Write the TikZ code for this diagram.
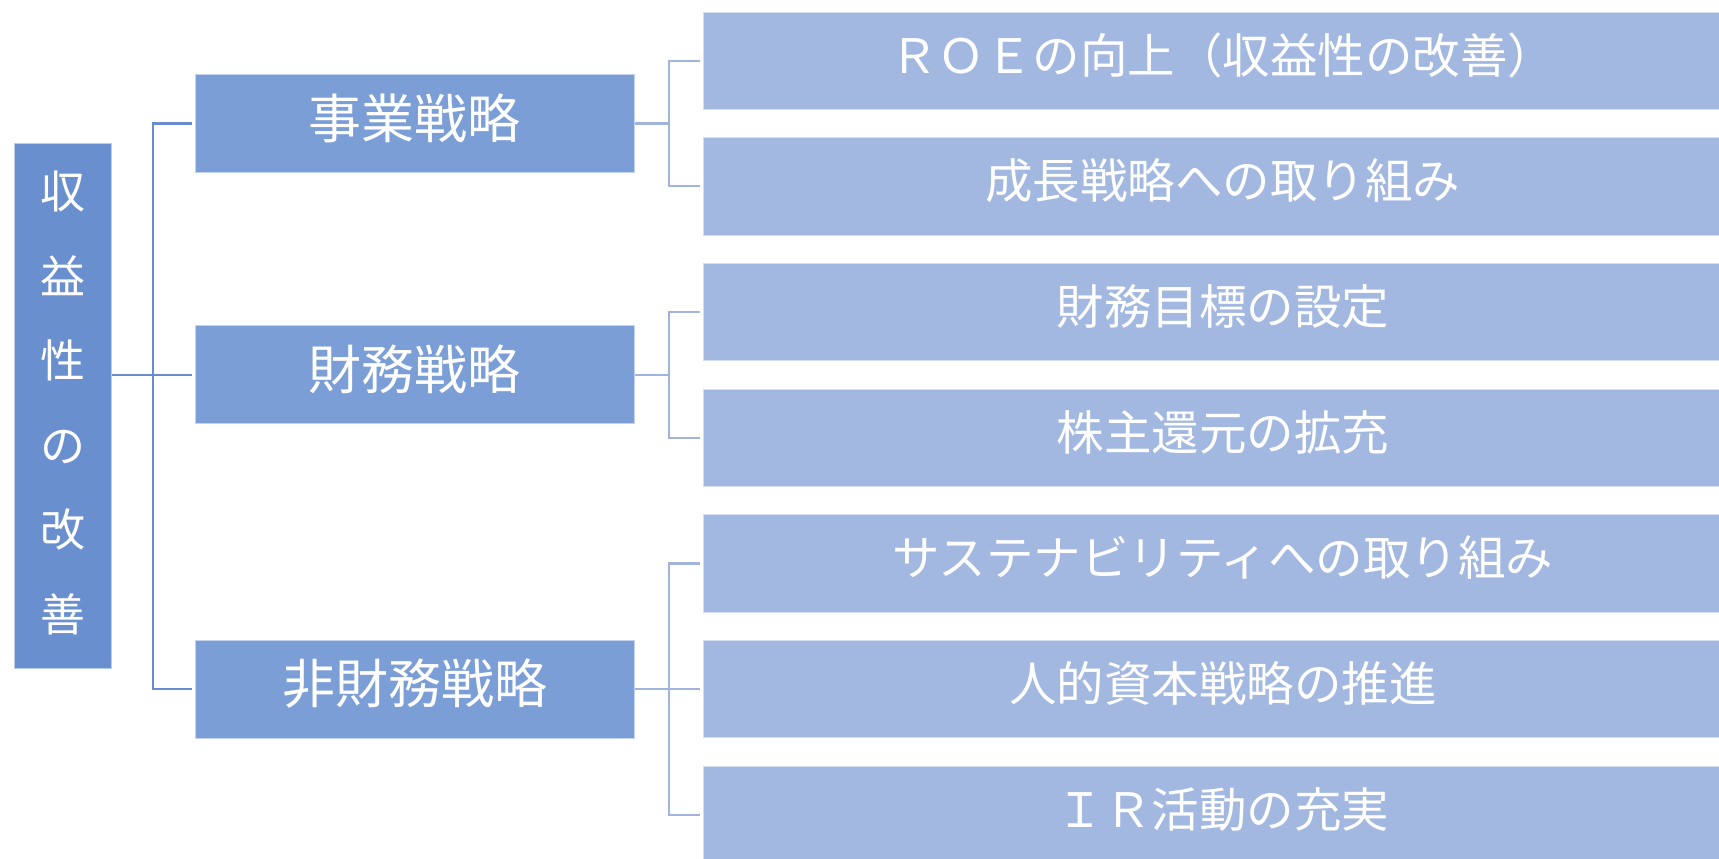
\documentclass[tikz,border=0pt]{standalone}
\usepackage{fontspec}
\newfontfamily\jp{Noto Sans CJK JP}
\newcommand\liftup[1]{\raisebox{5.5pt}[\height][\depth]{#1}}
\definecolor{rootfill}{RGB}{106,143,207}
\definecolor{midfill}{RGB}{123,158,214}
\definecolor{leaffill}{RGB}{162,184,224}
\definecolor{lineA}{RGB}{106,140,206}
\definecolor{lineB}{RGB}{160,180,222}
\tikzset{
  rootbox/.style={rectangle, fill=rootfill, draw=white!55!rootfill, line width=0.8pt,
    minimum width=97.5pt, minimum height=525pt, inner sep=0pt},
  roottext/.style={text=white, align=center, inner sep=0pt, yshift=3pt,
    font=\jp\fontsize{45}{84.5}\selectfont},
  midbox/.style={rectangle, fill=midfill, draw=white!55!midfill, line width=0.8pt,
    minimum width=439.7pt, minimum height=97.6pt, inner sep=0pt, text=white,
    font=\jp\fontsize{53}{60}\selectfont},
  leafbox/.style={rectangle, fill=leaffill, draw=white!55!leaffill, line width=0.8pt,
    minimum width=1038.3pt, minimum height=97.3pt, inner sep=0pt, text=white,
    font=\jp\fontsize{47.5}{55}\selectfont},
  connA/.style={draw=lineA, line width=2.2pt, shorten >=3pt},
  connB/.style={draw=lineB, line width=2.2pt, shorten >=3pt},
}
\begin{document}
\begin{tikzpicture}[x=1pt,y=-1pt]
\path[use as bounding box, clip] (0,0) rectangle (1719,859);
\fill[white] (0,0) rectangle (1719,859);
% root
\node[rootbox, label={[roottext]center:{収\\益\\性\\の\\改\\善}}] (root) at (63,406.2) {};
% middle
\node[midbox] (b1) at (414.85,123.5) {\liftup{事業戦略}};
\node[midbox] (b2) at (414.85,374.6) {\liftup{財務戦略}};
\node[midbox] (b3) at (414.85,689.2) {\liftup{非財務戦略}};
% leaves
\node[leafbox] (l1) at (1222.85,60.65) {\liftup{ＲＯＥの向上（収益性の改善）}};
\node[leafbox] (l2) at (1222.85,186.35) {\liftup{成長戦略への取り組み}};
\node[leafbox] (l3) at (1222.85,312.05) {\liftup{財務目標の設定}};
\node[leafbox] (l4) at (1222.85,437.75) {\liftup{株主還元の拡充}};
\node[leafbox] (l5) at (1222.85,563.45) {\liftup{サステナビリティへの取り組み}};
\node[leafbox] (l6) at (1222.85,689.15) {\liftup{人的資本戦略の推進}};
\node[leafbox] (l7) at (1222.85,814.85) {\liftup{ＩＲ活動の充実}};
% junctions
\coordinate (j0) at (153.3,374.6);
\coordinate (j1) at (669,123.5);
\coordinate (j2) at (669,374.6);
\coordinate (j3) at (669,689.2);
% level 1 connectors
\draw[connA] (root.east |- b2.west) -- (b2.west);
\draw[connA] (j0) |- (b1.west);
\draw[connA] (j0) |- (b3.west);
% level 2 connectors
\draw[connB, shorten >=0pt] (b1.east) -- (j1);
\draw[connB] (j1) |- (l1.west);
\draw[connB] (j1) |- (l2.west);
\draw[connB, shorten >=0pt] (b2.east) -- (j2);
\draw[connB] (j2) |- (l3.west);
\draw[connB] (j2) |- (l4.west);
\draw[connB, shorten >=0pt] (b3.east) -- (j3);
\draw[connB] (j3) |- (l5.west);
\draw[connB] (j3) |- (l6.west);
\draw[connB] (j3) |- (l7.west);
\end{tikzpicture}
\end{document}
